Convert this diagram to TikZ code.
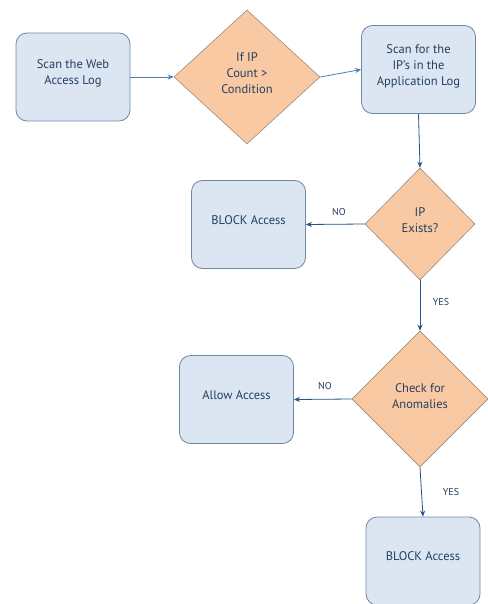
\documentclass[tikz,border=0pt]{standalone}
\usepackage{fontspec}
\setmainfont{PT Sans}
\usetikzlibrary{shapes.geometric,arrows.meta}
\definecolor{boxfill}{HTML}{DCE6F2}
\definecolor{boxline}{HTML}{6F87A3}
\definecolor{decfill}{HTML}{F9C9A4}
\definecolor{decline}{HTML}{A08A78}
\definecolor{arrline}{HTML}{2A5289}
\definecolor{arrlight}{HTML}{4A7EBB}
\definecolor{txt}{HTML}{243F60}
\begin{document}
\begin{tikzpicture}[x=1pt,y=-1pt,>={Stealth[length=6pt,width=5pt]},
    stepbox/.style={draw=boxline,fill=boxfill,rounded corners=11pt,line width=0.8pt,
      minimum width=114pt,minimum height=88pt,align=center,text=txt,text depth=9pt,
      font=\fontsize{12.5}{16}\selectfont},
    decision/.style={diamond,draw=decline,fill=decfill,line width=0.6pt,inner sep=0pt,
      align=center,text=txt,text depth=7pt,font=\fontsize{12.5}{16}\selectfont},
    flow/.style={->,draw=arrline,line width=0.8pt},
    tag/.style={text=txt,font=\fontsize{10}{11}\selectfont}]
  \useasboundingbox (0,0) rectangle (487,604);
  \node[stepbox] (scan) at (73,77) {Scan the Web\\Access Log};
  \node[decision,minimum width=146pt,minimum height=134pt] (count) at (247,77) {If IP\\Count >\\Condition};
  \node[stepbox] (app) at (418.5,69.5) {Scan for the\\IP's in the\\Application Log};
  \node[decision,minimum width=110pt,minimum height=112pt] (exists) at (420,224) {IP\\Exists?};
  \node[stepbox] (block) at (248.5,224.5) {BLOCK Access};
  \node[decision,minimum width=136pt,minimum height=136pt,text depth=5pt] (anom) at (420,399) {Check for\\Anomalies};
  \node[stepbox] (allow) at (236.5,399.5) {Allow Access};
  \node[stepbox] (block2) at (423,561) {BLOCK Access};
  \draw[flow,draw=arrlight] (scan) -- (count);
  \draw[flow,draw=arrlight] (count.east) -- (app.west);
  \draw[flow] (app.south) -- (exists.north);
  \draw[flow] (exists.west) -- (block.east);
  \draw[flow] (exists.south) -- (anom.north);
  \draw[flow] (anom.west) -- (allow.east);
  \draw[flow] (anom.south) -- (block2.north);
  \node[tag] (no1) at (339,212) {NO};
  \node[tag] (yes1) at (441,302) {YES};
  \node[tag] (no2) at (325,386) {NO};
  \node[tag] (yes2) at (451,492) {YES};
\end{tikzpicture}
\end{document}
